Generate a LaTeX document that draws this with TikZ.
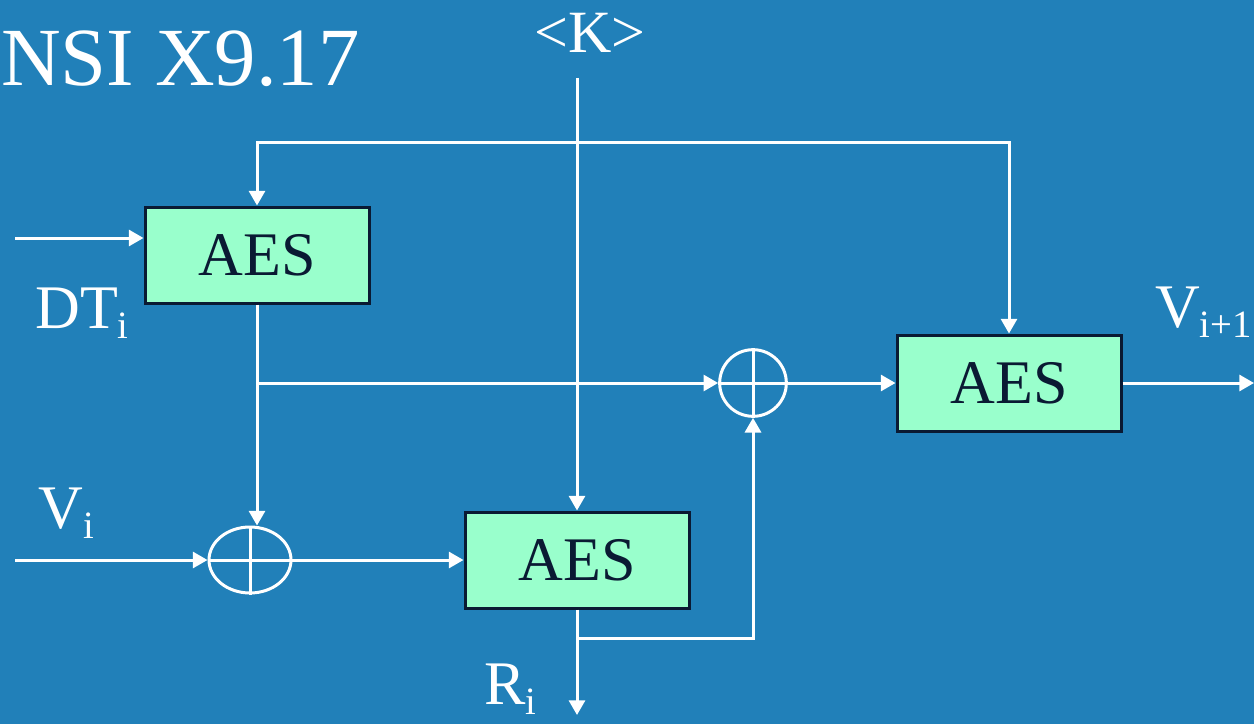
\documentclass[tikz,border=0pt]{standalone}
\usepackage{fontspec}
\setmainfont{Liberation Serif}
\usetikzlibrary{arrows.meta,shapes.geometric}
\definecolor{bg}{RGB}{33,128,185}
\definecolor{boxfill}{RGB}{153,255,204}
\definecolor{navy}{RGB}{10,26,51}
\newcommand{\lowsub}[1]{\raisebox{-7.5pt}{\fontsize{29}{30}\selectfont #1}}
\begin{document}
\begin{tikzpicture}[x=0.75pt,y=-0.75pt,
  aes/.style={draw=navy, line width=2.25pt, fill=boxfill, minimum width=168pt, minimum height=72pt, inner sep=0pt, text=navy, font=\fontsize{46.5}{50}\selectfont},
  wire/.style={draw=white, line width=2.25pt},
  arr/.style={wire, -{Triangle[length=11pt,width=12pt]}},
  xorc/.style={ellipse, draw=white, line width=2.25pt, inner sep=0pt},
  lbl/.style={text=white, font=\fontsize{46.5}{50}\selectfont, inner sep=0pt}]
\fill[bg] (0,0) rectangle (1254,724);
\useasboundingbox (0,0) rectangle (1254,724);

\node[lbl, font=\fontsize{62}{66}\selectfont, anchor=base west] (title) at (1,86) {NSI X9.17};
\node[lbl, font=\fontsize{45}{50}\selectfont, anchor=base] (k) at (590,53) {<K>};

\node[aes] (a1) at (257,255) {AES};
\node[aes] (a2) at (1009,383) {AES};
\node[aes] (a3) at (577,560) {AES};
\node[xorc, minimum width=61.5pt, minimum height=49.5pt] (x1) at (250,560) {};
\node[xorc, minimum width=50pt, minimum height=50pt] (x2) at (753,383) {};
\draw[wire] (x1.north) -- (x1.south) (x1.west) -- (x1.east);
\draw[wire] (x2.north) -- (x2.south) (x2.west) -- (x2.east);

\node[lbl, anchor=base west] (dt) at (35,328) {DT\lowsub{i}};
\node[lbl, anchor=base west] (vi) at (38,528) {V\lowsub{i}};
\node[lbl, anchor=base west] (ri) at (484,704) {R\lowsub{i}};
\node[lbl, anchor=base east] (vo) at (1252,327) {V\lowsub{i+1}};

\coordinate (kt) at (577,78);
\coordinate (top) at (577,143);
\coordinate (dtin) at (15,238);
\coordinate (vin) at (15,560);
\coordinate (b1) at (257,383);
\coordinate (b3) at (577,638);
\coordinate (vout) at (1254,383);
\coordinate (rout) at (577,715);

\draw[arr] (kt) -- (a3.north);
\draw[arr] (top) -| (a1.north);
\draw[arr] (top) -| (a2.north);
\draw[arr] (dtin) -- (dtin -| a1.west);
\draw[arr] (a1.south) -- (a1.south |- x1.north);
\draw[arr] (b1) -- (x2.west);
\draw[arr] (vin) -- (x1.west);
\draw[arr] (x1.east) -- (x1.east -| a3.west);
\draw[arr] (x2.east) -- (x2.east -| a2.west);
\draw[arr] (a2.east) -- (vout);
\draw[arr] (a3.south) -- (rout);
\draw[arr] (b3) -| (x2.south);
\end{tikzpicture}
\end{document}
